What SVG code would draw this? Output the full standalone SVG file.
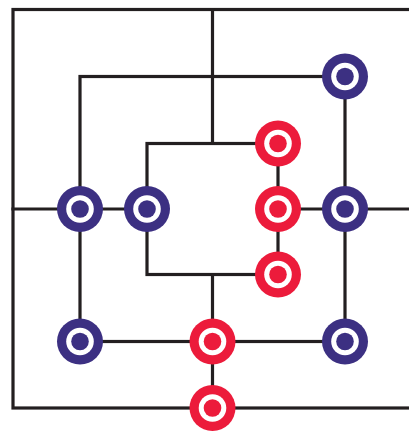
<svg xmlns="http://www.w3.org/2000/svg" width="409" height="433" viewBox="0 0 409 433">
<defs>
<style>
.ln{fill:none;stroke:#231f20;stroke-width:3.2;stroke-linecap:square}
.ring{stroke:none}
.blue{fill:#3c3082}
.red{fill:#ec1b3b}
.w{fill:#fff}
</style>
<g id="piece-blue"><circle r="23" class="blue"/><circle r="13.8" class="w"/><circle r="8.8" class="blue"/></g>
<g id="piece-red"><circle r="23" class="red"/><circle r="13.8" class="w"/><circle r="8.8" class="red"/></g>
</defs>
<rect width="409" height="433" fill="#fff"/>
<g id="connectors">
<rect class="ln" x="13" y="9.5" width="398" height="398.5"/>
<rect class="ln" x="80" y="76.5" width="265" height="265"/>
<rect class="ln" x="147" y="143.5" width="131" height="131"/>
<line class="ln" x1="212.5" y1="9.5" x2="212.5" y2="143.5"/>
<line class="ln" x1="212.5" y1="274.5" x2="212.5" y2="408"/>
<line class="ln" x1="13" y1="209" x2="147" y2="209"/>
<line class="ln" x1="278" y1="209" x2="411" y2="209"/>
</g>
<g id="b1" transform="translate(345,76.5)"><use href="#piece-blue"/></g>
<g id="b2" transform="translate(80,209)"><use href="#piece-blue"/></g>
<g id="b3" transform="translate(147,209)"><use href="#piece-blue"/></g>
<g id="b4" transform="translate(345,209)"><use href="#piece-blue"/></g>
<g id="b5" transform="translate(80,341.5)"><use href="#piece-blue"/></g>
<g id="b6" transform="translate(345,341.5)"><use href="#piece-blue"/></g>
<g id="r1" transform="translate(278,143.5)"><use href="#piece-red"/></g>
<g id="r2" transform="translate(278,209)"><use href="#piece-red"/></g>
<g id="r3" transform="translate(278,274.5)"><use href="#piece-red"/></g>
<g id="r4" transform="translate(212.5,341.5)"><use href="#piece-red"/></g>
<g id="r5" transform="translate(212.5,408)"><use href="#piece-red"/></g>
</svg>
